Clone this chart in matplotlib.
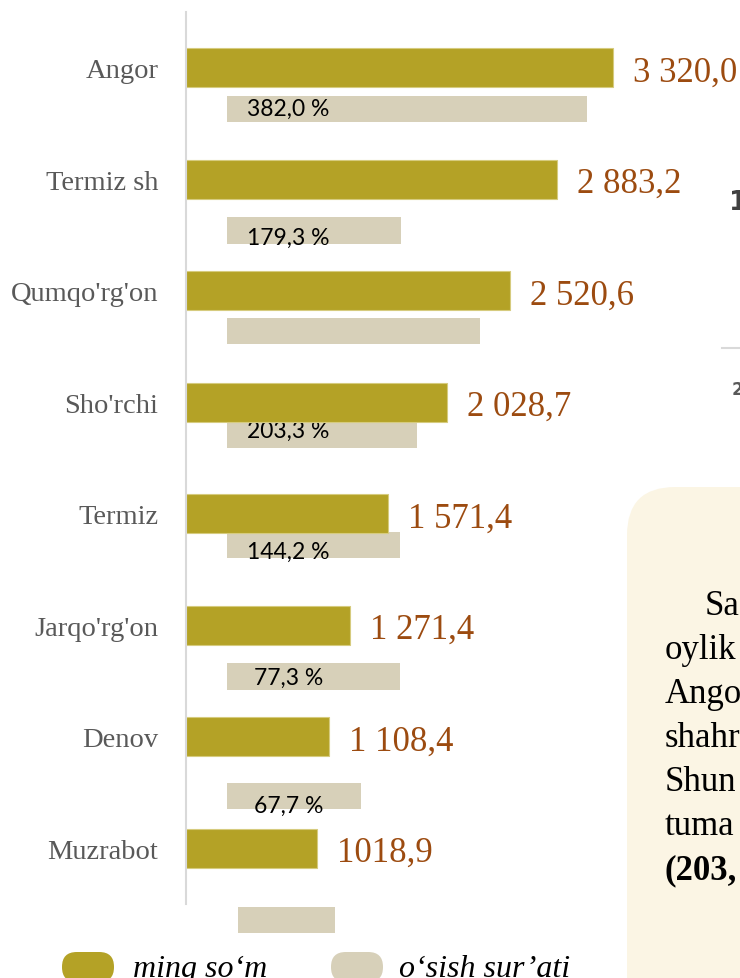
import matplotlib
matplotlib.use("Agg")
import matplotlib.pyplot as plt
from matplotlib.patches import FancyBboxPatch
from matplotlib.lines import Line2D

regions = ["Angor", "Termiz sh", "Qumqo'rg'on", "Sho'rchi", "Termiz", "Jarqo'rg'on", "Denov", "Muzrabot"]
wage = [3320.0, 2883.2, 2520.6, 2028.7, 1571.4, 1271.4, 1108.4, 1018.9]
wage_text = ["3 320,0", "2 883,2", "2 520,6", "2 028,7", "1 571,4", "1 271,4", "1 108,4", "1018,9"]
growth_text = ["382,0 %", "179,3 %", "", "203,3 %", "144,2 %", "77,3 %", "67,7 %", ""]
# growth bars as they sit in the picture (same scale as wage)
growth_start = [319, 319, 319, 319, 319, 319, 319, 404]
growth_end = [3118, 1672, 2286, 1796, 1664, 1664, 1361, 1159]
growth_row = [0.37, 1.46, 2.36, 3.29, 4.28, 5.46, 6.53, 7.64]
growth_text_row = [0.35, 1.50, 2.36, 3.23, 4.32, 5.45, 6.60, 7.64]

note_lines = ["Sa", "oylik", "Ango", "shahr", "Shun", "tuma", "(203,"]

GOLD = "#b4a226"
BEIGE = "#d7d0b9"
BROWN = "#9c4b10"
GREY = "#595959"
SERIF = "Liberation Serif"

W, H = 740, 979
fig = plt.figure(figsize=(W / 100, H / 100), dpi=100)


def fx(x):
    return x / W


def fy(y):
    return 1 - y / H


# text box on the right (part of the page)
fig.patches.append(FancyBboxPatch((fx(627), fy(1040)), fx(200), 552 / H,
                                  boxstyle="round,pad=0,rounding_size=0.065",
                                  transform=fig.transFigure, facecolor="#fbf5e4",
                                  edgecolor="none", mutation_aspect=W / H, zorder=0))
for i, line in enumerate(note_lines):
    x = 705 if i == 0 else 665
    fig.text(fx(x), fy(615 + 44 * i), line, fontsize=25, family=SERIF,
             weight="bold" if i == len(note_lines) - 1 else "normal",
             va="baseline", ha="left", color="black")

# pieces of the neighbouring chart
fig.text(fx(729), fy(210), "1", fontsize=19, family="DejaVu Sans", weight="bold",
         color="#404040", va="baseline")
fig.text(fx(732), fy(395), "2", fontsize=12, family="DejaVu Sans", weight="bold",
         color="#595959", va="baseline")
fig.lines.append(Line2D([fx(722), fx(740)], [fy(349), fy(349)], color="#d9d9d9",
                        lw=1.5, transform=fig.transFigure))

ax = fig.add_axes([fx(186), fy(905), (W - 186) / W, 892 / H])
ax.set_facecolor("none")
y = list(range(len(regions)))

ax.barh(growth_row, [e - s for s, e in zip(growth_start, growth_end)], left=growth_start,
        height=0.235, color=BEIGE, zorder=1, clip_on=False)
for r, t in zip(growth_text_row, growth_text):
    if t:
        ax.text(797, r, t, ha="center", va="center_baseline", fontsize=16.5,
                family="Lato", color="black", zorder=1.5)

ax.barh(y, wage, height=0.35, color=GOLD, edgecolor="#d6cb7e", linewidth=0.8, zorder=2)
for i, (v, t) in enumerate(zip(wage, wage_text)):
    ax.annotate(t, xy=(v, i), xytext=(14.5, 0), textcoords="offset points",
                ha="left", va="center_baseline", fontsize=25, family=SERIF, color=BROWN)

ax.set_xlim(0, 4307)
ax.set_ylim(7.5, -0.5)
ax.set_yticks(y)
ax.set_yticklabels(regions, fontsize=20.5, family=SERIF, color=GREY)
ax.tick_params(axis="y", length=0, pad=20)
ax.set_xticks([])
for s in ["top", "right", "bottom"]:
    ax.spines[s].set_visible(False)
ax.spines["left"].set_color("#d9d9d9")
ax.spines["left"].set_linewidth(1.5)

# legend
for x0, col, label, tx in [(62, GOLD, "ming so\u2018m", 133), (331, BEIGE, "o\u2018sish sur\u2019ati", 399)]:
    fig.patches.append(FancyBboxPatch((fx(x0), fy(983)), 52 / W, 30 / H,
                                      boxstyle="round,pad=0,rounding_size=0.02",
                                      transform=fig.transFigure, facecolor=col,
                                      edgecolor="none", mutation_aspect=W / H))
    fig.text(fx(tx), fy(977), label, fontsize=23, family=SERIF, style="italic",
             va="baseline", ha="left", color="black")

fig.savefig("out.png", dpi=100)
